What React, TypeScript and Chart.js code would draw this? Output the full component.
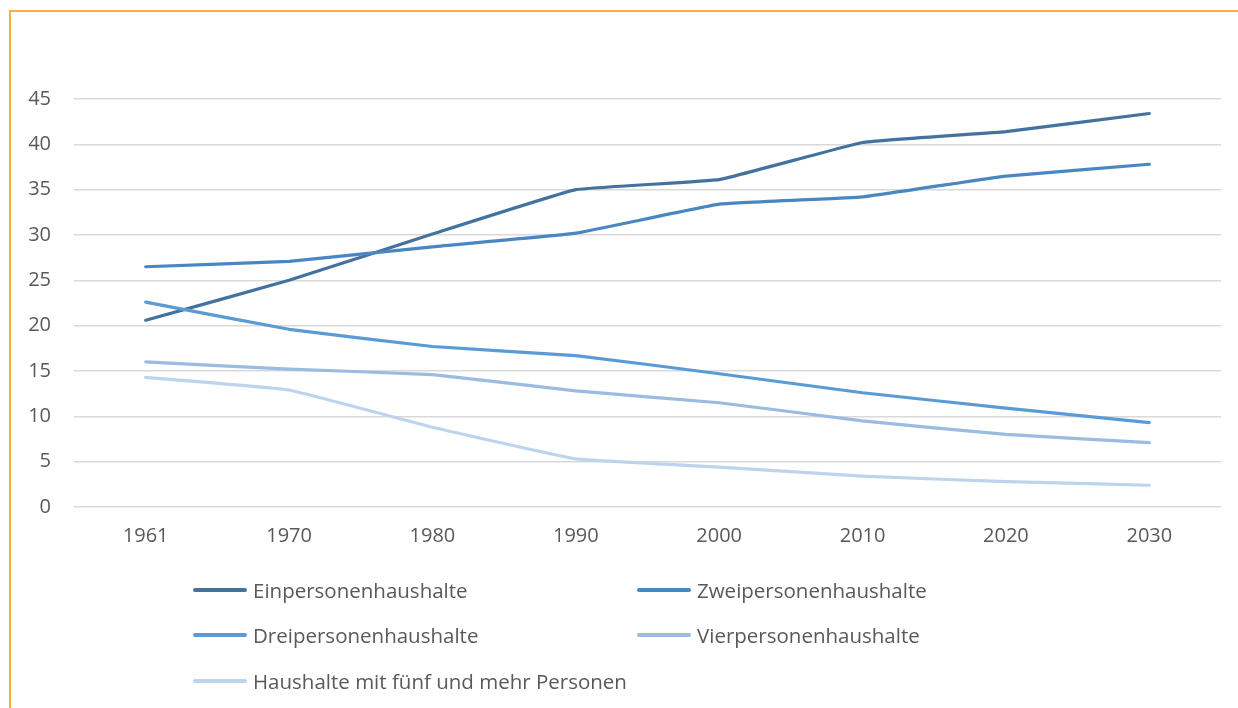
import React, { useEffect, useRef } from "react";
import { Chart, registerables } from "chart.js";

Chart.register(...registerables);

const years = ["1961", "1970", "1980", "1990", "2000", "2010", "2020", "2030"];
const seriesNames = [
  "Einpersonenhaushalte",
  "Zweipersonenhaushalte",
  "Dreipersonenhaushalte",
  "Vierpersonenhaushalte",
  "Haushalte mit fünf und mehr Personen",
];
const einValues = [20.6, 25.0, 30.1, 35.0, 36.1, 40.2, 41.4, 43.4];
const zweiValues = [26.5, 27.1, 28.7, 30.2, 33.4, 34.2, 36.5, 37.8];
const dreiValues = [22.6, 19.6, 17.7, 16.7, 14.7, 12.6, 10.9, 9.3];
const vierValues = [16.0, 15.2, 14.6, 12.8, 11.5, 9.5, 8.0, 7.1];
const fuenfValues = [14.3, 12.9, 8.8, 5.3, 4.4, 3.4, 2.8, 2.4];
const seriesColors = ["#44729e", "#4a87c1", "#5b9bd5", "#9bbbe1", "#bdd4ec"];
const yTicks = [0, 5, 10, 15, 20, 25, 30, 35, 40, 45];

const FONT = "'Open Sans', 'Noto Sans', sans-serif";
const TEXT = "#595959";

export default function App() {
  const ref = useRef<HTMLCanvasElement | null>(null);

  useEffect(() => {
    if (!ref.current) return;
    const values = [einValues, zweiValues, dreiValues, vierValues, fuenfValues];
    const chart = new Chart(ref.current, {
      type: "line",
      data: {
        labels: years,
        datasets: seriesNames.map((name, i) => ({
          label: name,
          data: values[i],
          borderColor: seriesColors[i],
          backgroundColor: seriesColors[i],
          borderWidth: 3.2,
          pointRadius: 0,
          tension: 0.08,
          borderCapStyle: "round" as const,
          borderJoinStyle: "round" as const,
          order: 5 - i,
        })),
      },
      options: {
        animation: false,
        responsive: false,
        maintainAspectRatio: false,
        layout: { padding: { top: 99, left: 0, right: 17, bottom: 141 } },
        plugins: { legend: { display: false }, tooltip: { enabled: false } },
        scales: {
          x: {
            type: "category",
            offset: true,
            grid: { display: false, drawTicks: false },
            border: { display: false },
            ticks: { color: TEXT, font: { family: FONT, size: 20 }, padding: 17 },
            afterFit: (s: any) => {
              s.height = 60;
            },
          },
          y: {
            min: 0,
            max: 45,
            afterBuildTicks: (s: any) => {
              s.ticks = yTicks.map((v) => ({ value: v }));
            },
            grid: { color: "#d9d9d9", lineWidth: 1.5, drawTicks: false },
            border: { display: false },
            ticks: { color: TEXT, font: { family: FONT, size: 20 }, padding: 23 },
            afterFit: (s: any) => {
              s.width = 74;
            },
          },
        },
      },
    });
    return () => chart.destroy();
  }, []);

  const legendPos = [
    { x: 193, y: 590 },
    { x: 637, y: 590 },
    { x: 193, y: 635 },
    { x: 637, y: 635 },
    { x: 193, y: 681 },
  ];

  return (
    <div style={{ position: "fixed", left: 0, top: 0, width: 1238, height: 708, overflow: "hidden", background: "#fff" }}>
      <div
        style={{
          position: "absolute",
          left: 9,
          top: 10,
          width: 1400,
          height: 900,
          border: "2px solid #f7ae45",
          boxSizing: "border-box",
        }}
      />
      <canvas ref={ref} width={1238} height={708} style={{ position: "absolute", left: 0, top: 0, width: 1238, height: 708 }} />
      {seriesNames.map((name, i) => (
        <div
          key={name}
          style={{
            position: "absolute",
            left: legendPos[i].x,
            top: legendPos[i].y - 15,
            height: 30,
            display: "flex",
            alignItems: "center",
            fontFamily: FONT,
            fontSize: 20.5,
            color: TEXT,
            whiteSpace: "nowrap",
          }}
        >
          <span style={{ display: "inline-block", width: 54, height: 4, background: seriesColors[i], borderRadius: 2, marginRight: 6 }} />
          <span>{name}</span>
        </div>
      ))}
    </div>
  );
}
